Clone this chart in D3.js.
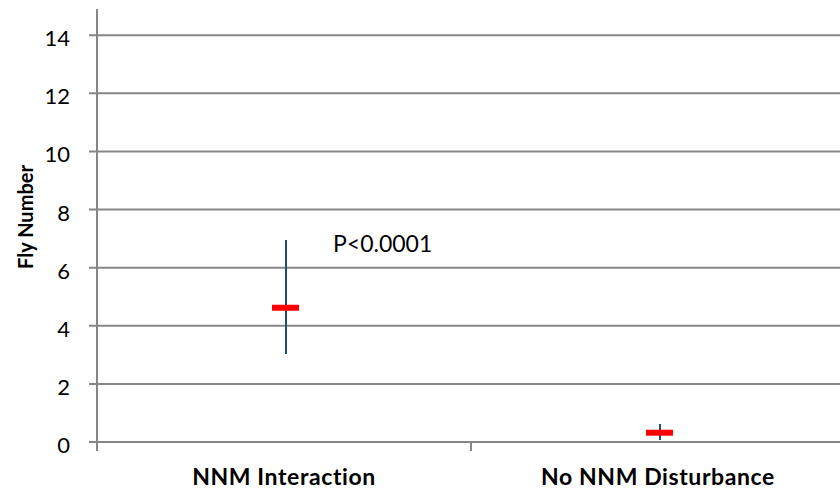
<!DOCTYPE html>
<html>
<head>
<meta charset="utf-8">
<script src="https://cdn.jsdelivr.net/npm/d3@7"></script>
<style>
  body { margin: 0; background: #fff; }
  text { font-family: Lato, "Open Sans", sans-serif; }
</style>
</head>
<body>
<svg id="chart" width="840" height="493"></svg>
<script>
// Fly number by group — mean (red) with range bars (navy)
const categories = ['NNM Interaction', 'No NNM Disturbance'];
const means = [4.62, 0.32];
const lows  = [3.03, 0.07];
const highs = [6.95, 0.62];
const yTicks = [0, 2, 4, 6, 8, 10, 12, 14];
const note = 'P<0.0001';

const W = 840, H = 493;
const MARGIN = { top: 9, right: 0, bottom: 51, left: 97 };
const svg = d3.select('#chart');

const x = d3.scaleBand().domain(categories).range([MARGIN.left, 845]);
const y = d3.scaleLinear().domain([0, 14.9]).range([H - MARGIN.bottom, MARGIN.top]);

const GRID = '#868686';

// Gridlines
svg.selectAll('.grid')
    .data(yTicks)
    .join('line')
    .attr('x1', MARGIN.left - 8).attr('x2', W)
    .attr('y1', d => y(d)).attr('y2', d => y(d))
    .attr('stroke', GRID).attr('stroke-width', 2);

// Y axis line
svg.append('line')
    .attr('x1', MARGIN.left).attr('x2', MARGIN.left)
    .attr('y1', y(14.9)).attr('y2', y(0) + 9)
    .attr('stroke', GRID).attr('stroke-width', 2);

// X category ticks
svg.selectAll('.xtick')
    .data(categories.slice(1))
    .join('line')
    .attr('x1', d => x(d)).attr('x2', d => x(d))
    .attr('y1', y(0)).attr('y2', y(0) + 9)
    .attr('stroke', GRID).attr('stroke-width', 2);

// Y tick labels
svg.selectAll('.ylab')
    .data(yTicks)
    .join('text')
    .attr('x', 70)
    .attr('y', d => y(d) + 11)
    .attr('text-anchor', 'end')
    .attr('font-size', '22px')
    .attr('fill', '#000')
    .text(d => d);

// X category labels
svg.selectAll('.xlab')
    .data(categories)
    .join('text')
    .attr('x', d => x(d) + x.bandwidth() / 2)
    .attr('y', 485)
    .attr('text-anchor', 'middle')
    .attr('font-size', '23px')
    .attr('font-weight', 'bold')
    .attr('letter-spacing', '0.6px')
    .attr('fill', '#000')
    .text(d => d);

// Y axis title
svg.append('text')
    .attr('transform', 'translate(33, 217) rotate(-90)')
    .attr('text-anchor', 'middle')
    .attr('font-size', '20px')
    .attr('font-weight', 'bold')
    .attr('fill', '#000')
    .text('Fly Number');

// Range bars
const cx = (d, i) => x(categories[i]) + x.bandwidth() / 2 + 2;
svg.selectAll('.range')
    .data(means)
    .join('line')
    .attr('x1', cx).attr('x2', cx)
    .attr('y1', (d, i) => y(highs[i]))
    .attr('y2', (d, i) => y(lows[i]))
    .attr('stroke', '#1f4e79').attr('stroke-width', 2);

// Mean markers
svg.selectAll('.mean')
    .data(means)
    .join('rect')
    .attr('x', (d, i) => cx(d, i) - 14)
    .attr('y', d => y(d) - 3)
    .attr('width', 27).attr('height', 6)
    .attr('fill', '#ff0000');

// Significance note
svg.append('text')
    .attr('x', 333).attr('y', 252)
    .attr('font-size', '23px')
    .attr('fill', '#000')
    .text(note);
</script>
</body>
</html>
